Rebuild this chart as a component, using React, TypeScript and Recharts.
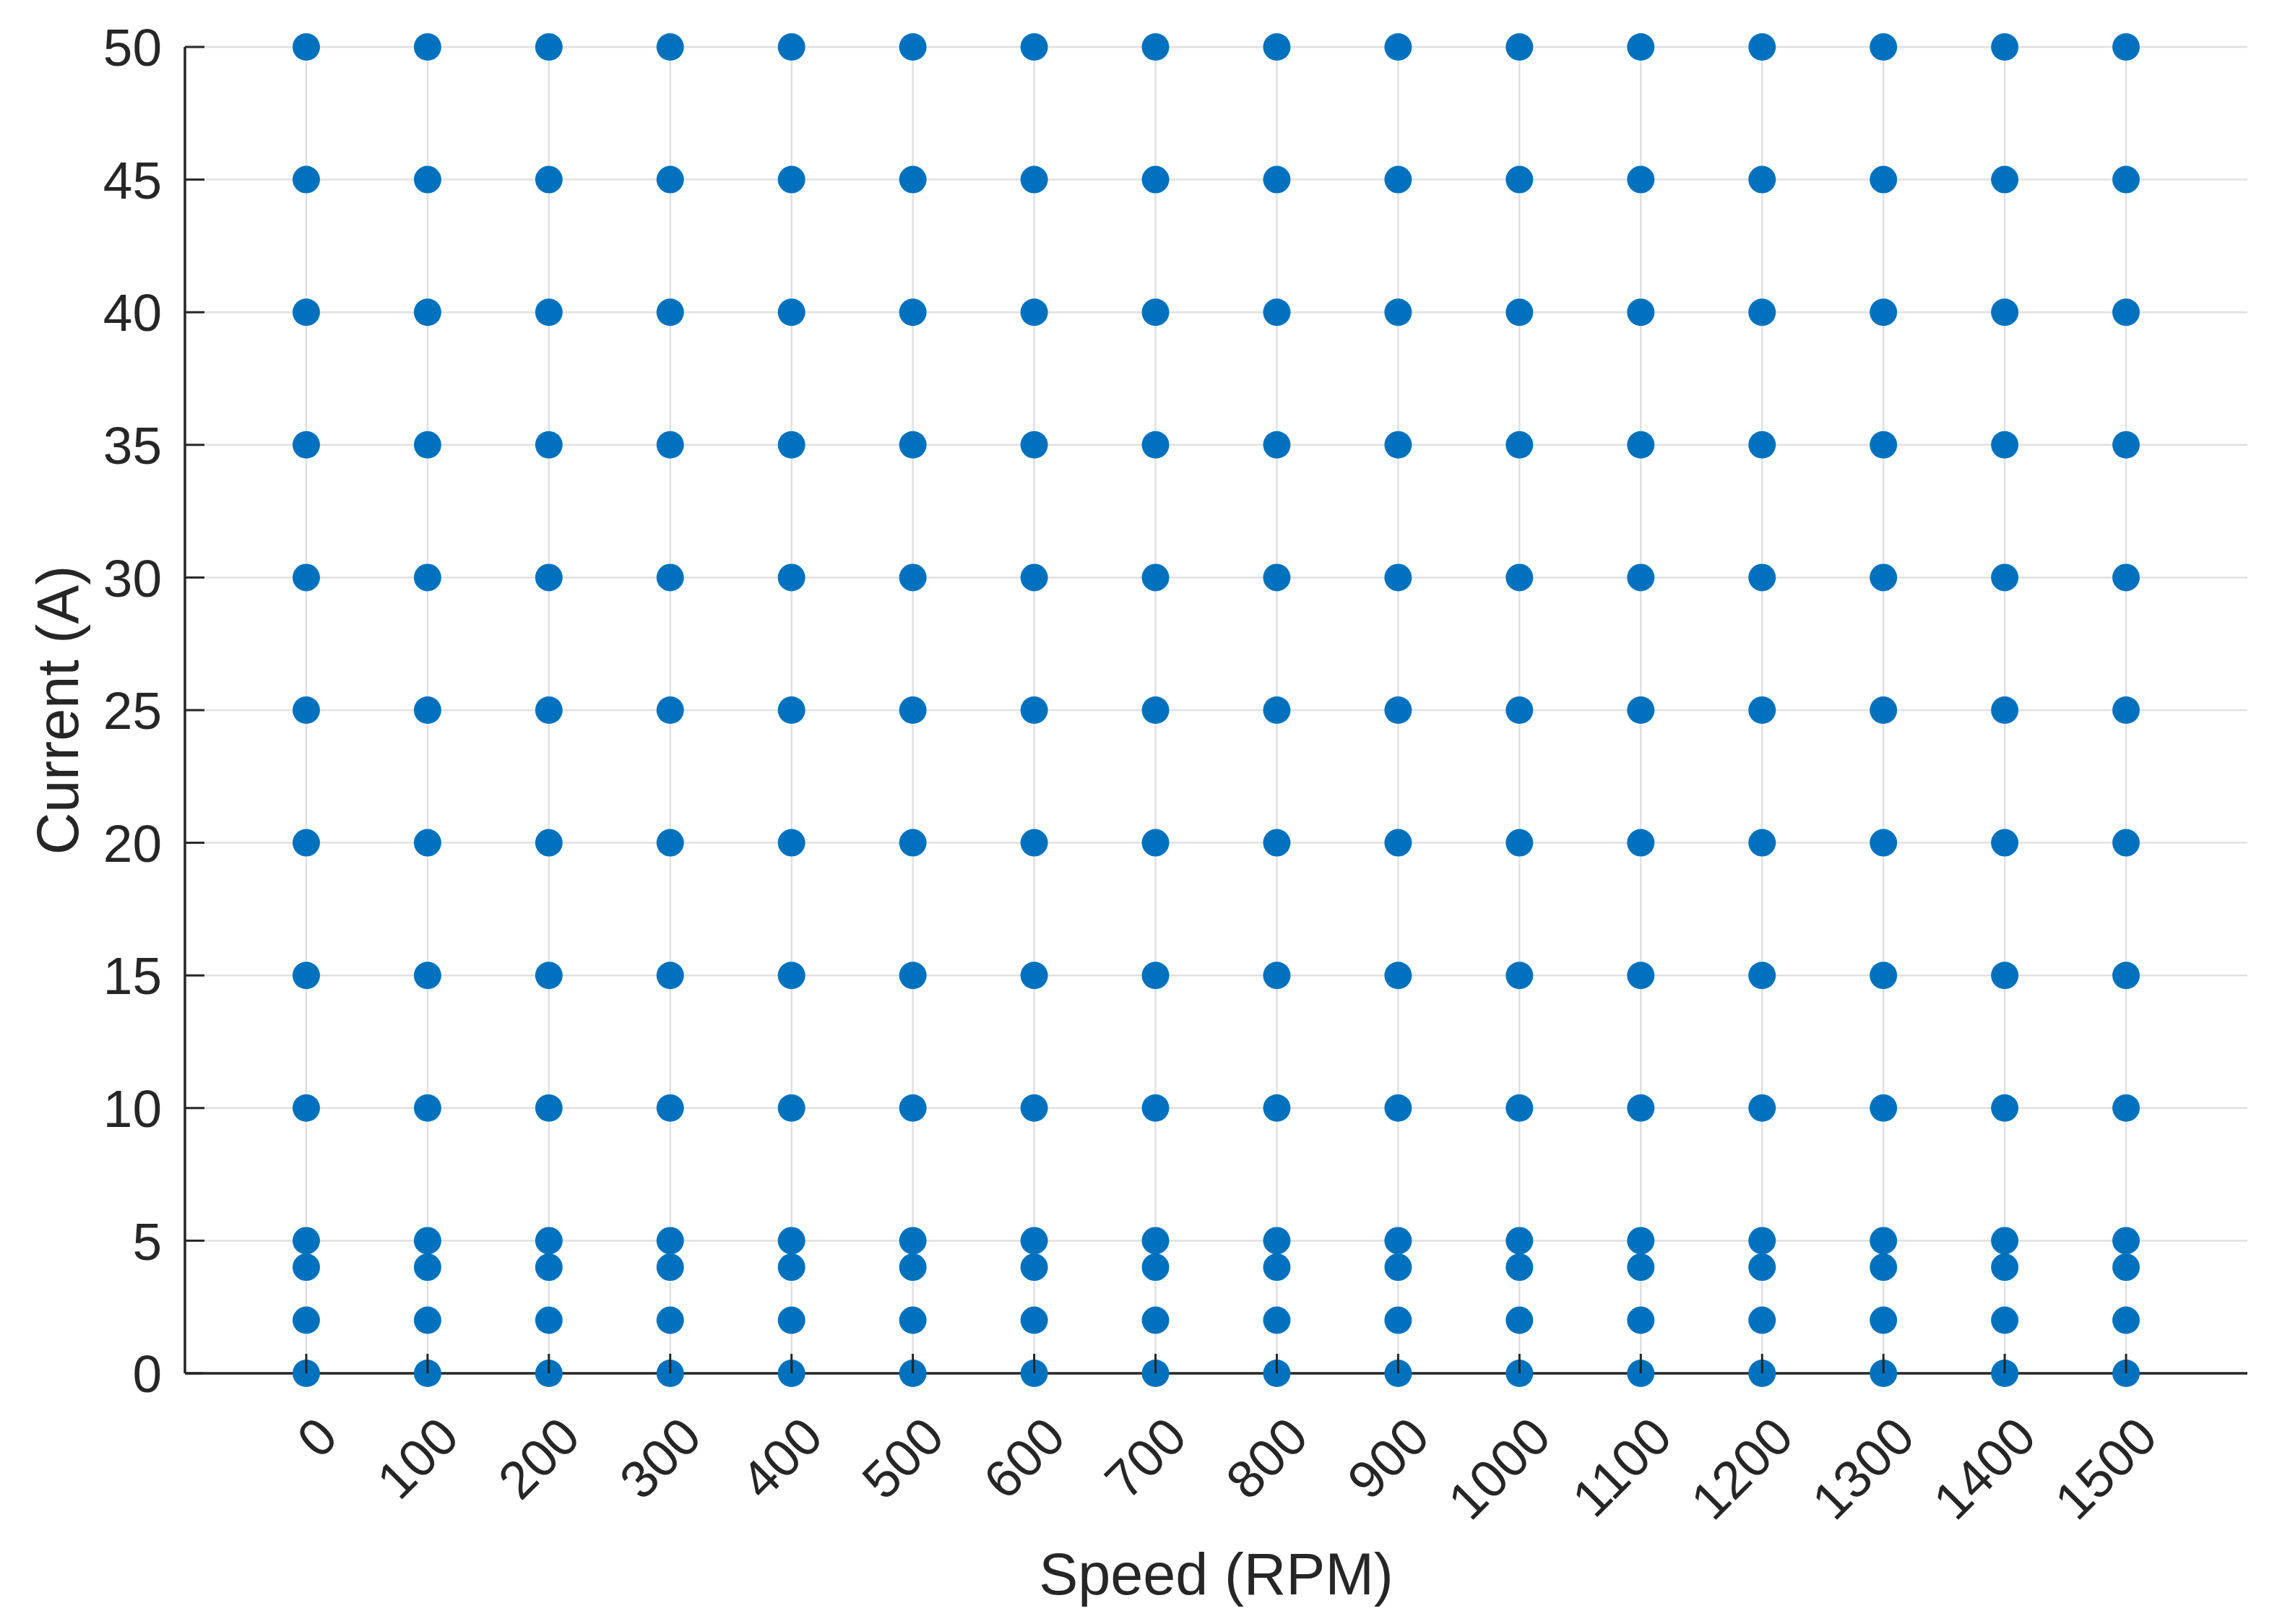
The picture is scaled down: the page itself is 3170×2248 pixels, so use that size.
import React from 'react';
import { ScatterChart, Scatter, XAxis, YAxis, CartesianGrid, Label } from 'recharts';

// ---- Data ----
const speeds = [0, 100, 200, 300, 400, 500, 600, 700, 800, 900, 1000, 1100, 1200, 1300, 1400, 1500];
const currents = [0, 2, 4, 5, 10, 15, 20, 25, 30, 35, 40, 45, 50];
const xTicks = [0, 100, 200, 300, 400, 500, 600, 700, 800, 900, 1000, 1100, 1200, 1300, 1400, 1500];
const yTicks = [0, 5, 10, 15, 20, 25, 30, 35, 40, 45, 50];
const points = speeds.flatMap((s) => currents.map((c) => ({ speed: s, current: c })));

// ---- Style ----
const W = 3170;
const H = 2248;
const FONT = '"Liberation Sans", Arial, Helvetica, sans-serif';
const AXIS_COLOR = '#262626';
const GRID_COLOR = '#e0e0e0';
const DOT_COLOR = '#0072BD';
const TICK_FS = 73;
const LABEL_FS = 81;
const TICK_LEN = 27;

const YTick = (props: any) => {
  const { x, y, payload } = props;
  return (
    <g>
      <line x1={x} y1={y} x2={x + TICK_LEN} y2={y} stroke={AXIS_COLOR} strokeWidth={3} />
      <text
        x={x - 32}
        y={y}
        dy="0.36em"
        textAnchor="end"
        fontSize={TICK_FS}
        fontFamily={FONT}
        fill={AXIS_COLOR}
      >
        {payload.value}
      </text>
    </g>
  );
};

const XTick = (props: any) => {
  const { x, y, payload } = props;
  return (
    <g>
      <line x1={x} y1={y} x2={x} y2={y - TICK_LEN} stroke={AXIS_COLOR} strokeWidth={3} />
      <text
        transform={`translate(${x + 47},${y + 92}) rotate(-45)`}
        textAnchor="end"
        fontSize={TICK_FS}
        fontFamily={FONT}
        fill={AXIS_COLOR}
      >
        {payload.value}
      </text>
    </g>
  );
};

const Dot = (props: any) => {
  const { cx, cy } = props;
  return <circle cx={cx} cy={cy} r={19} fill={DOT_COLOR} />;
};

const XLabel = (props: any) => {
  const vb = props.viewBox || {};
  return (
    <text
      x={vb.x + vb.width / 2}
      y={vb.y + 306}
      textAnchor="middle"
      fontSize={LABEL_FS}
      fontFamily={FONT}
      fill={AXIS_COLOR}
    >
      Speed (RPM)
    </text>
  );
};

const YLabel = (props: any) => {
  const vb = props.viewBox || {};
  const cx = 108;
  const cy = vb.y + vb.height / 2;
  return (
    <text
      transform={`translate(${cx},${cy}) rotate(-90)`}
      textAnchor="middle"
      fontSize={LABEL_FS}
      fontFamily={FONT}
      fill={AXIS_COLOR}
    >
      Current (A)
    </text>
  );
};

export default function App() {
  return (
    <div style={{ position: 'absolute', left: 0, top: 0, width: W, height: H, background: '#fff' }}>
      <ScatterChart width={W} height={H} margin={{ top: 65, right: 59, bottom: 0, left: 0 }}>
        <CartesianGrid stroke={GRID_COLOR} strokeWidth={2.5} syncWithTicks />
        <XAxis
          type="number"
          dataKey="speed"
          domain={[-100, 1600]}
          ticks={xTicks}
          height={347}
          tickSize={0}
          tickMargin={0}
          tickLine={false}
          axisLine={{ stroke: AXIS_COLOR, strokeWidth: 3.5 }}
          tick={<XTick />}
          interval={0}
        >
          <Label content={<XLabel />} />
        </XAxis>
        <YAxis
          type="number"
          dataKey="current"
          domain={[0, 50]}
          ticks={yTicks}
          width={256}
          tickSize={0}
          tickMargin={0}
          tickLine={false}
          axisLine={{ stroke: AXIS_COLOR, strokeWidth: 3.5 }}
          tick={<YTick />}
          interval={0}
        >
          <Label content={<YLabel />} />
        </YAxis>
        <Scatter data={points} shape={<Dot />} isAnimationActive={false} />
      </ScatterChart>
    </div>
  );
}
